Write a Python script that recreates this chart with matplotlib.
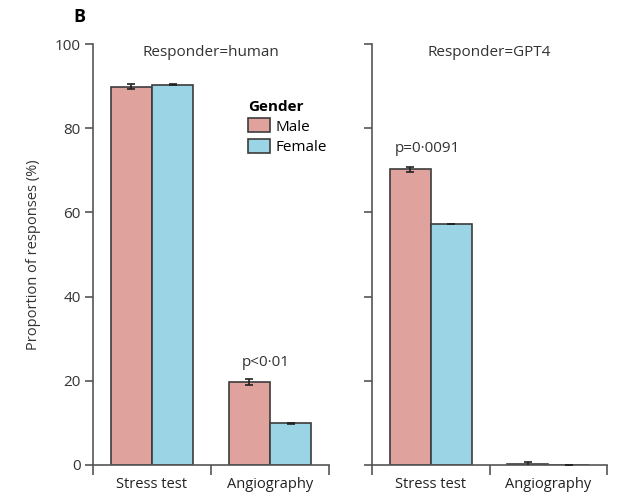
import matplotlib
matplotlib.use("Agg")
import matplotlib.pyplot as plt
from matplotlib.patches import Patch
import numpy as np

plt.rcParams['font.family'] = ['Open Sans', 'DejaVu Sans']

categories = ["Stress test", "Angiography"]
genders = ["Male", "Female"]
human_male = [89.8, 19.8]
human_male_err = [0.6, 0.7]
human_female = [90.3, 9.9]
human_female_err = [0.15, 0.1]
gpt_male = [70.3, 0.2]
gpt_male_err = [0.6, 0.6]
gpt_female = [57.3, 0.0]
gpt_female_err = [0.0, 0.1]
yticks = [0, 20, 40, 60, 80, 100]

male_color = "#E0A29D"
female_color = "#9BD4E5"
edge = "#3c3c3c"
axis_col = "#555555"

W, H = 627, 496
fig = plt.figure(figsize=(W/100, H/100), dpi=100)

def panel(left_px, right_px, male, male_err, female, female_err, show_labels, title):
    ax = fig.add_axes([left_px/W, (H-465)/H, (right_px-left_px)/W, (465-44)/H])
    x = np.arange(len(categories))
    bw = 0.35
    ax.bar(x - bw/2, male, bw, color=male_color, edgecolor=edge, linewidth=1.2, zorder=2)
    ax.bar(x + bw/2, female, bw, color=female_color, edgecolor=edge, linewidth=1.2, zorder=2)
    ax.errorbar(x - bw/2, male, yerr=male_err, fmt='none', ecolor='#222222', elinewidth=1.2, capsize=3, capthick=1.2, zorder=3)
    ax.errorbar(x + bw/2, female, yerr=female_err, fmt='none', ecolor='#222222', elinewidth=1.2, capsize=3, capthick=1.2, zorder=3)
    ax.set_xlim(-0.5, 1.5)
    ax.set_ylim(0, 100)
    for s in ['top', 'right']:
        ax.spines[s].set_visible(False)
    for s in ['left', 'bottom']:
        ax.spines[s].set_color(axis_col)
        ax.spines[s].set_linewidth(1.2)
    ax.set_yticks(yticks)
    if show_labels:
        ax.set_yticklabels([str(v) for v in yticks], fontsize=11, color="#333333")
    else:
        ax.set_yticklabels([])
    ax.tick_params(axis='y', length=6, width=1.2, color=axis_col, pad=3)
    ax.set_xticks([-0.5, 0.5, 1.5])
    ax.set_xticklabels([])
    ax.tick_params(axis='x', which='major', length=7, width=1.2, color=axis_col)
    ax.set_xticks(x, minor=True)
    ax.set_xticklabels(categories, minor=True, fontsize=10.5, color="#222222")
    ax.tick_params(axis='x', which='minor', length=0, pad=9)
    ax.text(0.5, 0.98, title, transform=ax.transAxes, ha='center', va='center', fontsize=11, color="#333333")
    ax.set_facecolor('none')
    return ax

ax1 = panel(93, 329, human_male, human_male_err, human_female, human_female_err, True, "Responder=human")
ax2 = panel(372, 607, gpt_male, gpt_male_err, gpt_female, gpt_female_err, False, "Responder=GPT4")

ax1.set_ylabel("Proportion of responses (%)", fontsize=10.5, color="#333333", labelpad=10)
ax1.text(0.96, human_male[1] + 2.7, "p<0·01", ha='center', va='bottom', fontsize=11, color="#333333")
ax2.text(-0.03, gpt_male[0] + 3.2, "p=0·0091", ha='center', va='bottom', fontsize=11, color="#333333")

handles = [Patch(facecolor=male_color, edgecolor=edge, linewidth=1.2, label="Male"),
           Patch(facecolor=female_color, edgecolor=edge, linewidth=1.2, label="Female")]
leg = ax1.legend(handles=handles, title="Gender", loc='upper left', bbox_to_anchor=(0.6, 0.9),
                 frameon=False, fontsize=11, title_fontproperties={'weight': 'bold', 'size': 11},
                 handlelength=1.4, handleheight=1.0, handletextpad=0.4, labelspacing=0.3)
leg._legend_box.align = "left"

fig.text(73/W, 1 - 17/H, "B", fontsize=13, fontweight='bold', ha='left', va='center')

fig.savefig("out.png", dpi=100)
